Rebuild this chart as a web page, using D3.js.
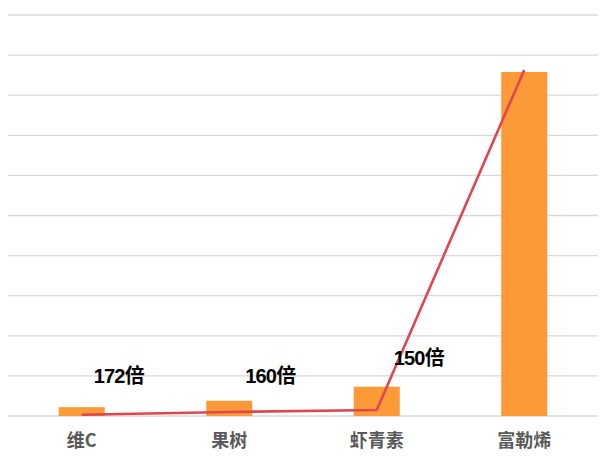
<!DOCTYPE html>
<html>
<head>
<meta charset="utf-8">
<script src="https://cdn.jsdelivr.net/npm/d3@7"></script>
<style>
  body { margin: 0; background: #fff; }
  svg { display: block; }
</style>
</head>
<body>
<div id="chart"></div>
<script>

// chart data
const CATEGORIES = ["维C", "果树", "虾青素", "富勒烯"];
const BAR_VALUES = [0.22, 0.38, 0.73, 8.58];
const LINE_VALUES = [0.03, 0.1, 0.15, 8.63];
const LABELS = ["172倍", "160倍", "150倍"];
const GRID_TICKS = [0, 1, 2, 3, 4, 5, 6, 7, 8, 9, 10];

// frame constants
const FRAME_WIDTH = 608;
const FRAME_HEIGHT = 469;
const PLOT = {left: 8, right: 598, top: 15, bottom: 416};

const FRAME = d3.select("#chart")
                .append("svg")
                  .attr("width", FRAME_WIDTH)
                  .attr("height", FRAME_HEIGHT);

// scales
const X_SCALE = d3.scaleBand()
                  .domain(CATEGORIES)
                  .range([PLOT.left, PLOT.right])
                  .padding(0);

const Y_SCALE = d3.scaleLinear()
                  .domain([0, 10])
                  .range([PLOT.bottom, PLOT.top]);

const BAR_WIDTH = X_SCALE.bandwidth() * 0.312;
const center = (c) => X_SCALE(c) + X_SCALE.bandwidth() / 2;

// gridlines
FRAME.append("g")
     .selectAll("line")
     .data(GRID_TICKS)
     .enter()
     .append("line")
       .attr("x1", PLOT.left)
       .attr("x2", PLOT.right)
       .attr("y1", (d) => Y_SCALE(d))
       .attr("y2", (d) => Y_SCALE(d))
       .attr("stroke", "#d9d9d9")
       .attr("stroke-width", 1.3);

// bars
FRAME.append("g")
     .selectAll("rect")
     .data(CATEGORIES)
     .enter()
     .append("rect")
       .attr("x", (d) => center(d) - BAR_WIDTH / 2)
       .attr("y", (d, i) => Y_SCALE(BAR_VALUES[i]))
       .attr("width", BAR_WIDTH)
       .attr("height", (d, i) => Y_SCALE(0) - Y_SCALE(BAR_VALUES[i]))
       .attr("fill", "#fd9a38");

// red line
const LINE = d3.line()
               .x((d, i) => center(CATEGORIES[i]))
               .y((d) => Y_SCALE(d));

FRAME.append("path")
     .datum(LINE_VALUES)
     .attr("d", LINE)
     .attr("fill", "none")
     .attr("stroke", "#e04650")
     .attr("stroke-width", 2.6)
     .attr("stroke-linejoin", "round");

// x axis labels
const xAxis = FRAME.append("g")
                   .attr("transform", "translate(0," + (PLOT.bottom + 31) + ")")
                   .call(d3.axisBottom(X_SCALE).tickSize(0));
xAxis.select(".domain").remove();
xAxis.selectAll("text")
     .attr("y", 0)
     .attr("dy", 0)
     .attr("font-family", "'Noto Sans CJK SC', sans-serif")
     .attr("font-weight", "bold")
     .attr("font-size", "18px")
     .attr("fill", "#595959");

// multiple labels
const LABEL_DX = [37, 41, 42];
const LABEL_Y = [383, 383, 365];
FRAME.append("g")
     .selectAll("text")
     .data(LABELS)
     .enter()
     .append("text")
       .attr("x", (d, i) => center(CATEGORIES[i]) + LABEL_DX[i])
       .attr("y", (d, i) => LABEL_Y[i])
       .attr("text-anchor", "middle")
       .attr("font-family", "'Liberation Sans', 'Noto Sans CJK SC', sans-serif")
       .attr("font-weight", "bold")
       .attr("font-size", "20px")
       .attr("letter-spacing", "-0.8px")
       .attr("fill", "#000")
       .text((d) => d);

</script>
</body>
</html>
